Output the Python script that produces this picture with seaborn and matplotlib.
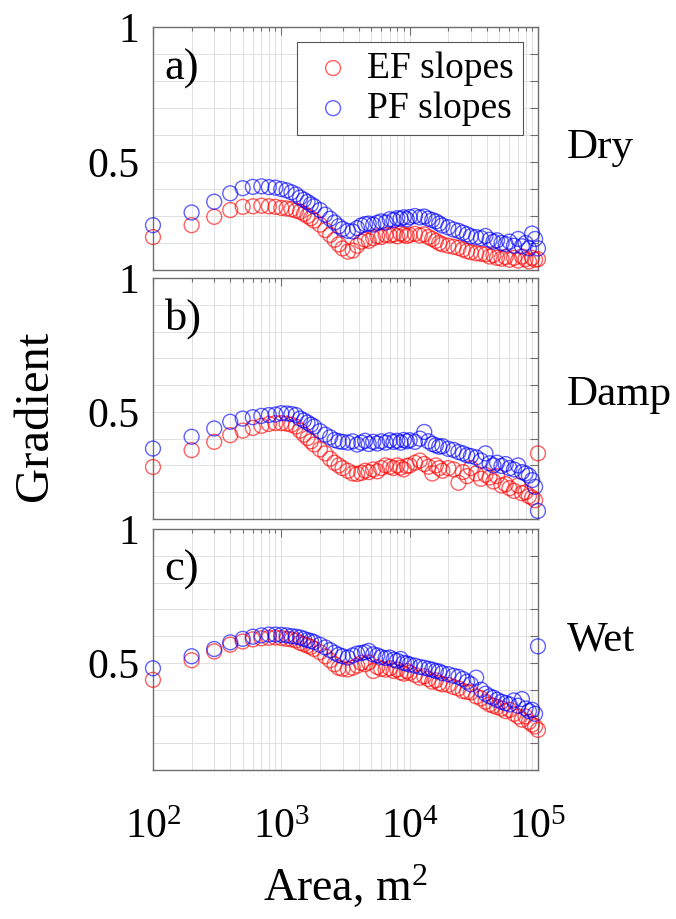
import numpy as np
import pandas as pd
import matplotlib
matplotlib.use("Agg")
import matplotlib.pyplot as plt
import seaborn as sns
from matplotlib.ticker import FixedLocator, LogLocator, NullFormatter

# ---------------- data ----------------
area = [100, 200, 300, 400, 500, 600, 700, 800, 900, 1000,
        1100, 1200, 1300, 1400, 1500, 1600, 1700, 1800, 2000, 2200,
        2400, 2600, 2800, 3000, 3300, 3600, 3900, 4200, 4500, 4800,
        5200, 5600, 6000, 6500, 7000, 7500, 8000, 8500, 9000, 9500,
        10000, 11000, 12000, 13000, 14000, 15000, 16000, 17000, 18000, 20000,
        22000, 24000, 26000, 28000, 30000, 33000, 36000, 39000, 42000, 45000,
        48000, 52000, 56000, 60000, 65000, 70000, 75000, 80000, 85000, 90000,
        95000, 100000]

dry_pf = [.266, .313, .353, .384, .403, .408, .410, .407, .405, .400,
          .395, .388, .380, .368, .360, .352, .343, .336, .322, .305,
          .290, .276, .262, .252, .245, .243, .255, .265, .270, .272,
          .268, .275, .280, .276, .288, .285, .292, .290, .295, .288,
          .296, .300, .295, .298, .290, .285, .280, .272, .265, .258,
          .250, .245, .238, .232, .225, .222, .218, .226, .212, .205,
          .210, .200, .196, .205, .190, .215, .188, .200, .180, .235,
          .215, .180]
dry_ef = [.222, .266, .297, .322, .334, .336, .338, .336, .334, .330,
          .328, .325, .320, .316, .308, .300, .292, .283, .268, .248,
          .230, .212, .195, .180, .168, .172, .190, .205, .212, .208,
          .218, .225, .222, .230, .228, .232, .225, .235, .230, .226,
          .230, .234, .228, .232, .222, .215, .208, .200, .195, .190,
          .186, .182, .176, .170, .166, .162, .160, .158, .150, .155,
          .145, .142, .148, .138, .145, .135, .150, .140, .132, .145,
          .138, .140]

damp_pf = [.363, .407, .438, .463, .475, .480, .485, .488, .490, .495,
           .494, .492, .488, .475, .468, .460, .452, .445, .428, .415,
           .405, .395, .390, .388, .385, .390, .378, .385, .392, .380,
           .388, .382, .390, .385, .394, .388, .392, .385, .395, .390,
           .394, .388, .400, .425, .390, .380, .375, .370, .372, .362,
           .358, .350, .345, .338, .335, .330, .318, .345, .308, .300,
           .310, .298, .305, .290, .285, .300, .275, .270, .262, .245,
           .220, .130]
damp_ef = [.294, .357, .388, .413, .430, .440, .448, .455, .458, .458,
           .456, .452, .445, .430, .415, .402, .390, .378, .360, .345,
           .325, .310, .300, .290, .280, .270, .268, .272, .280, .275,
           .285, .278, .290, .300, .295, .290, .300, .292, .285, .298,
           .300, .310, .318, .305, .295, .270, .300, .290, .280, .290,
           .285, .235, .275, .260, .290, .270, .250, .265, .255, .240,
           .260, .225, .230, .215, .205, .225, .196, .200, .185, .180,
           .170, .345]

wet_pf = [.480, .525, .552, .577, .590, .598, .603, .606, .606, .605,
          .603, .600, .598, .595, .590, .585, .582, .578, .568, .558,
          .548, .538, .530, .525, .520, .528, .535, .537, .540, .545,
          .532, .528, .522, .518, .520, .512, .508, .515, .500, .498,
          .494, .490, .485, .482, .478, .475, .470, .468, .462, .458,
          .452, .448, .440, .430, .420, .445, .400, .385, .375, .370,
          .362, .355, .350, .345, .360, .340, .365, .330, .320, .325,
          .310, .562]
wet_ef = [.437, .510, .543, .568, .580, .588, .592, .594, .595, .593,
          .590, .588, .584, .575, .570, .565, .560, .552, .540, .525,
          .510, .495, .482, .478, .476, .482, .490, .500, .495, .502,
          .470, .485, .478, .475, .480, .470, .475, .465, .460, .470,
          .463, .455, .445, .450, .440, .430, .435, .425, .420, .418,
          .410, .405, .395, .392, .390, .375, .368, .355, .345, .340,
          .335, .330, .320, .325, .310, .300, .288, .300, .280, .270,
          .263, .250]

panel_tags = ["a)", "b)", "c)"]
conditions = ["Dry", "Damp", "Wet"]
series_labels = ["EF slopes", "PF slopes"]
x_tick_vals = [1e2, 1e3, 1e4, 1e5]
x_tick_labels = [r"$\mathregular{10^{2}}$", r"$\mathregular{10^{3}}$",
                 r"$\mathregular{10^{4}}$", r"$\mathregular{10^{5}}$"]
y_tick_vals = [0.1, 0.2, 0.3, 0.4, 0.5, 0.6, 0.7, 0.8, 0.9, 1.0]
y_tick_labels = ["", "", "", "", "0.5", "", "", "", "", "1"]

# ---------------- style ----------------
sns.set_theme(style="white")
plt.rcParams["font.family"] = ["Liberation Serif", "DejaVu Serif"]
plt.rcParams["mathtext.fontset"] = "custom"
plt.rcParams["mathtext.rm"] = "Liberation Serif"
plt.rcParams["mathtext.it"] = "Liberation Serif:italic"
plt.rcParams["text.color"] = "black"
plt.rcParams["axes.labelcolor"] = "black"
plt.rcParams["xtick.labelcolor"] = "black"
plt.rcParams["ytick.labelcolor"] = "black"

spine_col = "#6e6e6e"
grid_col = "#e0e0e0"

fig = plt.figure(figsize=(6.76, 9.19), dpi=100)
positions = [[0.2263, 0.7062, 0.5695, 0.2644],
             [0.2263, 0.4353, 0.5695, 0.2622],
             [0.2263, 0.1621, 0.5695, 0.2622]]
cond_fig_y = [0.839, 0.570, 0.3036]
data_sets = [(dry_ef, dry_pf), (damp_ef, damp_pf), (wet_ef, wet_pf)]

for i, (pos, (ef, pf)) in enumerate(zip(positions, data_sets)):
    ax = fig.add_axes(pos)
    df = pd.DataFrame({"area": area, "ef": ef, "pf": pf})
    sns.scatterplot(data=df, x="area", y="ef", ax=ax, marker="o", s=115,
                    fc="none", ec="red", linewidth=1.0, alpha=0.62,
                    label=series_labels[0], legend=False, clip_on=False, zorder=3)
    sns.scatterplot(data=df, x="area", y="pf", ax=ax, marker="o", s=115,
                    fc="none", ec="blue", linewidth=1.0, alpha=0.62,
                    label=series_labels[1], legend=False, clip_on=False, zorder=3)
    ax.set_xscale("log")
    ax.set_xlim(100, 1e5)
    ax.set_ylim(0.1, 1.0)
    ax.set_xlabel("")
    ax.set_ylabel("")
    ax.xaxis.set_major_locator(FixedLocator(x_tick_vals))
    ax.xaxis.set_minor_locator(LogLocator(base=10, subs=(2, 3, 4, 5, 6, 7, 8, 9)))
    ax.xaxis.set_minor_formatter(NullFormatter())
    if i == 2:
        ax.set_xticklabels(x_tick_labels, fontsize=30)
    else:
        ax.set_xticklabels([])
    ax.set_yticks(y_tick_vals)
    ax.set_yticklabels(y_tick_labels, fontsize=30)
    ax.tick_params(axis="both", which="both", direction="in", top=True, right=True,
                   color=spine_col, width=0.8, labelcolor="black")
    ax.tick_params(axis="both", which="major", length=6)
    ax.tick_params(axis="both", which="minor", length=3)
    ax.tick_params(axis="y", pad=10)
    ax.tick_params(axis="x", pad=28)
    ax.grid(True, which="both", axis="x", color=grid_col, lw=0.7)
    ax.grid(True, which="major", axis="y", color=grid_col, lw=0.7)
    ax.set_axisbelow(True)
    for sp in ax.spines.values():
        sp.set_color(spine_col)
        sp.set_linewidth(1.0)
    ax.text(0.03, 0.83, panel_tags[i], transform=ax.transAxes, fontsize=32,
            ha="left", va="center", color="black")
    fig.text(0.839, cond_fig_y[i], conditions[i], fontsize=31, ha="left", va="center",
             color="black")
    if i == 0:
        leg = ax.legend(loc="upper right", bbox_to_anchor=(1 - 15 / 385, 1 - 15 / 243),
                        borderaxespad=0, fontsize=27, frameon=True, fancybox=False,
                        edgecolor="#555555", framealpha=1, borderpad=0.25,
                        labelspacing=0.15, handletextpad=0.2, handlelength=1.4,
                        markerscale=1.0, labelcolor="black")
        leg.get_frame().set_linewidth(0.8)

fig.text(0.052, 0.548, "Gradient", rotation=90, fontsize=35, ha="center", va="center",
         color="black")
fig.text(0.511, 0.035, r"Area, m$^\mathregular{2}$", fontsize=33, ha="center",
         va="center", color="black")

fig.savefig("out.png", dpi=100)
